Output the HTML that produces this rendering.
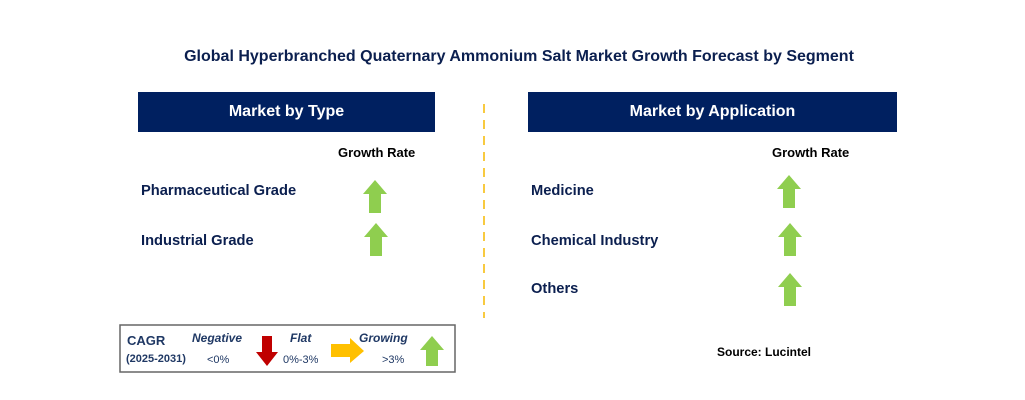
<!DOCTYPE html>
<html><head><meta charset="utf-8"><style>
body{margin:0;background:#fff;}
#root{position:relative;width:1025px;height:400px;overflow:hidden;font-family:"Liberation Sans",Arial,sans-serif;}
.t{position:absolute;white-space:nowrap;}
.hdr{position:absolute;background:#002060;color:#fff;font-weight:bold;font-size:16px;display:flex;align-items:center;justify-content:center;}
.item{position:absolute;color:#0b1f4f;font-weight:bold;font-size:14.7px;}
.gr{position:absolute;color:#000;font-weight:bold;font-size:13px;}
svg{position:absolute;left:0;top:0;}
</style></head><body>
<div id="root">
<div class="t" style="left:0;width:1038px;text-align:center;top:48px;font-weight:bold;font-size:16px;color:#0b1f4f;">Global Hyperbranched Quaternary Ammonium Salt Market Growth Forecast by Segment</div>
<div class="hdr" style="left:138px;top:92px;width:297px;height:40px;">Market by Type</div>
<div class="hdr" style="left:528px;top:92px;width:369px;height:40px;">Market by Application</div>
<div class="gr" style="left:338px;top:145px;">Growth Rate</div>
<div class="gr" style="left:772px;top:145px;">Growth Rate</div>
<div class="item" style="left:141px;top:183px;">Pharmaceutical Grade</div>
<div class="item" style="left:141px;top:233px;">Industrial Grade</div>
<div class="item" style="left:531px;top:183px;">Medicine</div>
<div class="item" style="left:531px;top:233px;">Chemical Industry</div>
<div class="item" style="left:531px;top:281px;">Others</div>
<svg width="1025" height="400">
<line x1="484" y1="104" x2="484" y2="318" stroke="#f5b800" stroke-width="1.5" stroke-dasharray="9,7"/>
<g fill="#8fce4f">
<polygon points="375,180 387,194 381,194 381,213 369,213 369,194 363,194"/>
<polygon points="376,223 388,237 382,237 382,256 370,256 370,237 364,237"/>
<polygon points="789,175 801,189 795,189 795,208 783,208 783,189 777,189"/>
<polygon points="790,223 802,237 796,237 796,256 784,256 784,237 778,237"/>
<polygon points="790,273 802,287 796,287 796,306 784,306 784,287 778,287"/>
</g>
<rect x="120" y="325" width="335" height="47" fill="#fff" stroke="#666" stroke-width="1.5"/>
<polygon fill="#c00000" points="262,336 272,336 272,352 278,352 267,366 256,352 262,352"/>
<polygon fill="#ffc000" points="331,344 350,344 350,338 364,351 350,363 350,357 331,357"/>
<polygon fill="#8fce4f" points="432,336 444,350 438,350 438,366 426,366 426,350 420,350"/>
</svg>
<div class="t" style="left:127px;top:333px;font-size:13px;font-weight:bold;color:#1f3864;">CAGR</div>
<div class="t" style="left:126px;top:353px;font-size:11px;font-weight:bold;color:#1f3864;">(2025-2031)</div>
<div class="t" style="left:192px;top:331px;font-size:12px;font-weight:bold;font-style:italic;color:#1f3864;">Negative</div>
<div class="t" style="left:207px;top:354px;font-size:11px;color:#1f3864;">&lt;0%</div>
<div class="t" style="left:290px;top:331px;font-size:12px;font-weight:bold;font-style:italic;color:#1f3864;">Flat</div>
<div class="t" style="left:283px;top:354px;font-size:11px;color:#1f3864;">0%-3%</div>
<div class="t" style="left:359px;top:331px;font-size:12px;font-weight:bold;font-style:italic;color:#1f3864;">Growing</div>
<div class="t" style="left:382px;top:354px;font-size:11px;color:#1f3864;">&gt;3%</div>
<div class="t" style="left:717px;top:345px;font-size:12px;font-weight:bold;color:#000;">Source: Lucintel</div>
</div>
</body></html>
